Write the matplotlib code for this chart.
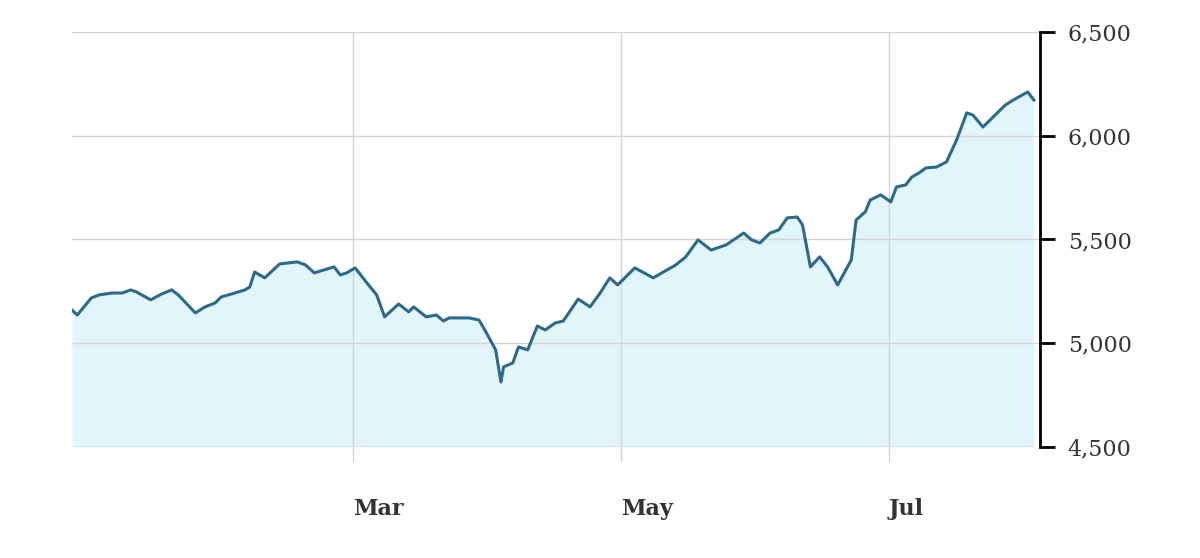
import pandas as pd
import numpy as np
import matplotlib
matplotlib.use('Agg')
import matplotlib.pyplot as plt
from matplotlib.ticker import FuncFormatter

# days counted from 2025-01-01
days = [-5, -3.8, -0.6, 1.2, 4.1, 6.4, 8.4, 9.7, 12.9, 15.4, 17.7, 19.2, 23.1, 25.3,
        27.6, 29, 32.1, 34.4, 35.5, 36.6, 38.9, 42.3, 46.3, 48.2, 50.2, 54.7, 56.1,
        57.6, 59.5, 62.2, 64.4, 66.2, 69.4, 71.7, 72.8, 75.7, 78, 79.6, 80.9, 85.4,
        87.7, 89.3, 91.5, 92.7, 93.3, 95.4, 96.7, 98.8, 101, 102.8, 105.1, 106.9,
        110.3, 113, 115.3, 117.5, 119.3, 123.2, 127.4, 132.5, 134.8, 137.6, 140.6,
        144, 148, 149.8, 151.7, 154, 156, 157.9, 160.2, 161.4, 163.2, 165.3, 167.1,
        169.4, 172.5, 173.6, 175.7, 176.8, 179.2, 181.5, 182.8, 184.9, 186.3, 187.9,
        189.5, 191.9, 194.2, 196.5, 198.8, 200.2, 202.5, 204.8, 207.6, 209.4, 212.7,
        214.1]
values = [5160, 5136, 5218, 5233, 5242, 5242, 5257, 5247, 5209, 5237, 5257, 5233, 5146,
          5175, 5194, 5223, 5242, 5257, 5271, 5343, 5315, 5382, 5392, 5377, 5339, 5368,
          5329, 5339, 5363, 5290, 5233, 5127, 5189, 5151, 5175, 5127, 5136, 5107, 5122,
          5122, 5112, 5054, 4968, 4813, 4886, 4905, 4982, 4968, 5083, 5064, 5098, 5107,
          5213, 5175, 5242, 5315, 5281, 5363, 5315, 5377, 5416, 5498, 5449, 5474, 5531,
          5498, 5483, 5531, 5546, 5604, 5608, 5570, 5368, 5416, 5368, 5281, 5401, 5594,
          5633, 5690, 5715, 5681, 5753, 5763, 5801, 5820, 5845, 5849, 5874, 5980, 6110,
          6100, 6042, 6090, 6148, 6172, 6211, 6172]

month_ticks = ['2025-03-01', '2025-05-01', '2025-07-01']
month_labels = ['Mar', 'May', 'Jul']
y_ticks = [4500, 5000, 5500, 6000, 6500]

dates = pd.Timestamp('2025-01-01') + pd.to_timedelta(days, unit='D')

fig = plt.figure(figsize=(12, 5.58), dpi=100)
ax = fig.add_axes([0.06, 0.199, 0.8067, 0.7437])

ax.fill_between(dates, values, 4500, color='#e2f5fb', lw=0)
ax.plot(dates, values, color='#2c6a8a', lw=2.2, solid_joinstyle='round')

ax.set_ylim(4500, 6500)
ax.set_xlim(dates[0], pd.Timestamp('2025-01-01') + pd.Timedelta(days=215.5))

ax.set_yticks(y_ticks)
ax.yaxis.set_major_formatter(FuncFormatter(lambda v, p: '{:,}'.format(int(v))))
ax.yaxis.tick_right()
ax.tick_params(axis='y', direction='out', length=11, width=2, color='black',
               pad=9, labelsize=16, labelcolor='#333333')
for t in ax.get_yticklabels():
    t.set_fontfamily('DejaVu Serif')

xt = pd.to_datetime(month_ticks)
ax.set_xticks(xt)
ax.set_xticklabels(month_labels, ha='left', fontfamily='DejaVu Serif',
                   fontweight='bold', fontsize=16, color='#333333')
ax.tick_params(axis='x', direction='out', length=11, width=1, color='#d4d4d4', pad=26)

ax.grid(True, color='#d4d4d4', lw=1)
ax.set_axisbelow('line')

for s in ['top', 'left', 'bottom']:
    ax.spines[s].set_visible(False)
ax.spines['right'].set_linewidth(2)
ax.spines['right'].set_color('black')

plt.savefig('out.png')
plt.close(fig)
